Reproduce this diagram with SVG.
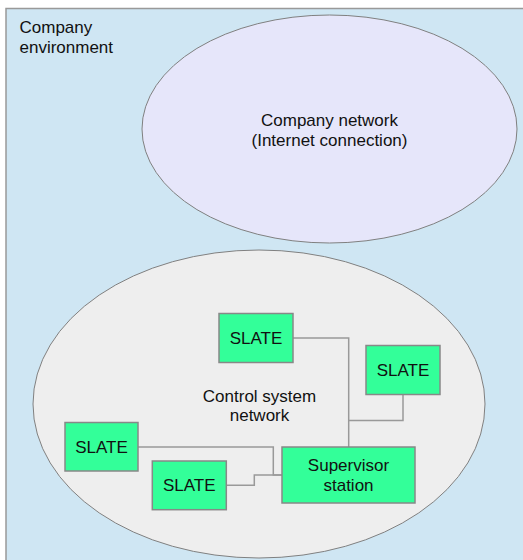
<svg xmlns="http://www.w3.org/2000/svg" width="523" height="560" viewBox="0 0 523 560">
<style>
text{font-family:"Liberation Sans",Arial,sans-serif;font-size:17px;fill:#111}
.c{text-anchor:middle}
.box{fill:#33ff99;stroke:#888;stroke-width:1.5}
.ell{stroke:#808080;stroke-width:1}
.wire{fill:none;stroke:#999;stroke-width:1.5}
</style>
<rect width="523" height="560" fill="#ffffff"/>
<g id="company-environment">
<rect x="6" y="8.5" width="530" height="570" fill="#cfe6f3" stroke="#999" stroke-width="1.5"/>
<text x="19.5" y="33">Company</text>
<text x="19.5" y="53">environment</text>
</g>
<g id="company-network">
<ellipse class="ell" cx="329.5" cy="129" rx="187.5" ry="114" fill="#e6e6fa"/>
<text class="c" x="329.5" y="126">Company network</text>
<text class="c" x="329.5" y="146">(Internet connection)</text>
</g>
<g id="control-system-network">
<ellipse class="ell" cx="259" cy="404" rx="226" ry="154" fill="#eeeeee"/>
<text class="c" x="259.5" y="401.5">Control system</text>
<text class="c" x="259.5" y="421">network</text>
</g>
<g id="connectors">
<polyline class="wire" points="293,338 348.7,338 348.7,447"/>
<polyline class="wire" points="403,394 403,420.5 348.7,420.5"/>
<polyline class="wire" points="138,447 273.3,447 273.3,475 282,475"/>
<polyline class="wire" points="226,485.3 254.3,485.3 254.3,475 282,475"/>
</g>
<g id="slate-1">
<rect class="box" x="219" y="313.5" width="74" height="49"/>
<text class="c" x="256" y="344.3">SLATE</text>
</g>
<g id="slate-2">
<rect class="box" x="366" y="345.5" width="74" height="49"/>
<text class="c" x="403" y="376">SLATE</text>
</g>
<g id="slate-3">
<rect class="box" x="65" y="422.5" width="73" height="48.5"/>
<text class="c" x="101.5" y="453">SLATE</text>
</g>
<g id="slate-4">
<rect class="box" x="152.3" y="461" width="74" height="48.7"/>
<text class="c" x="189.3" y="491">SLATE</text>
</g>
<g id="supervisor-station">
<rect class="box" x="282" y="447" width="133" height="56"/>
<text class="c" x="348.5" y="471">Supervisor</text>
<text class="c" x="348.5" y="490.7">station</text>
</g>
</svg>
